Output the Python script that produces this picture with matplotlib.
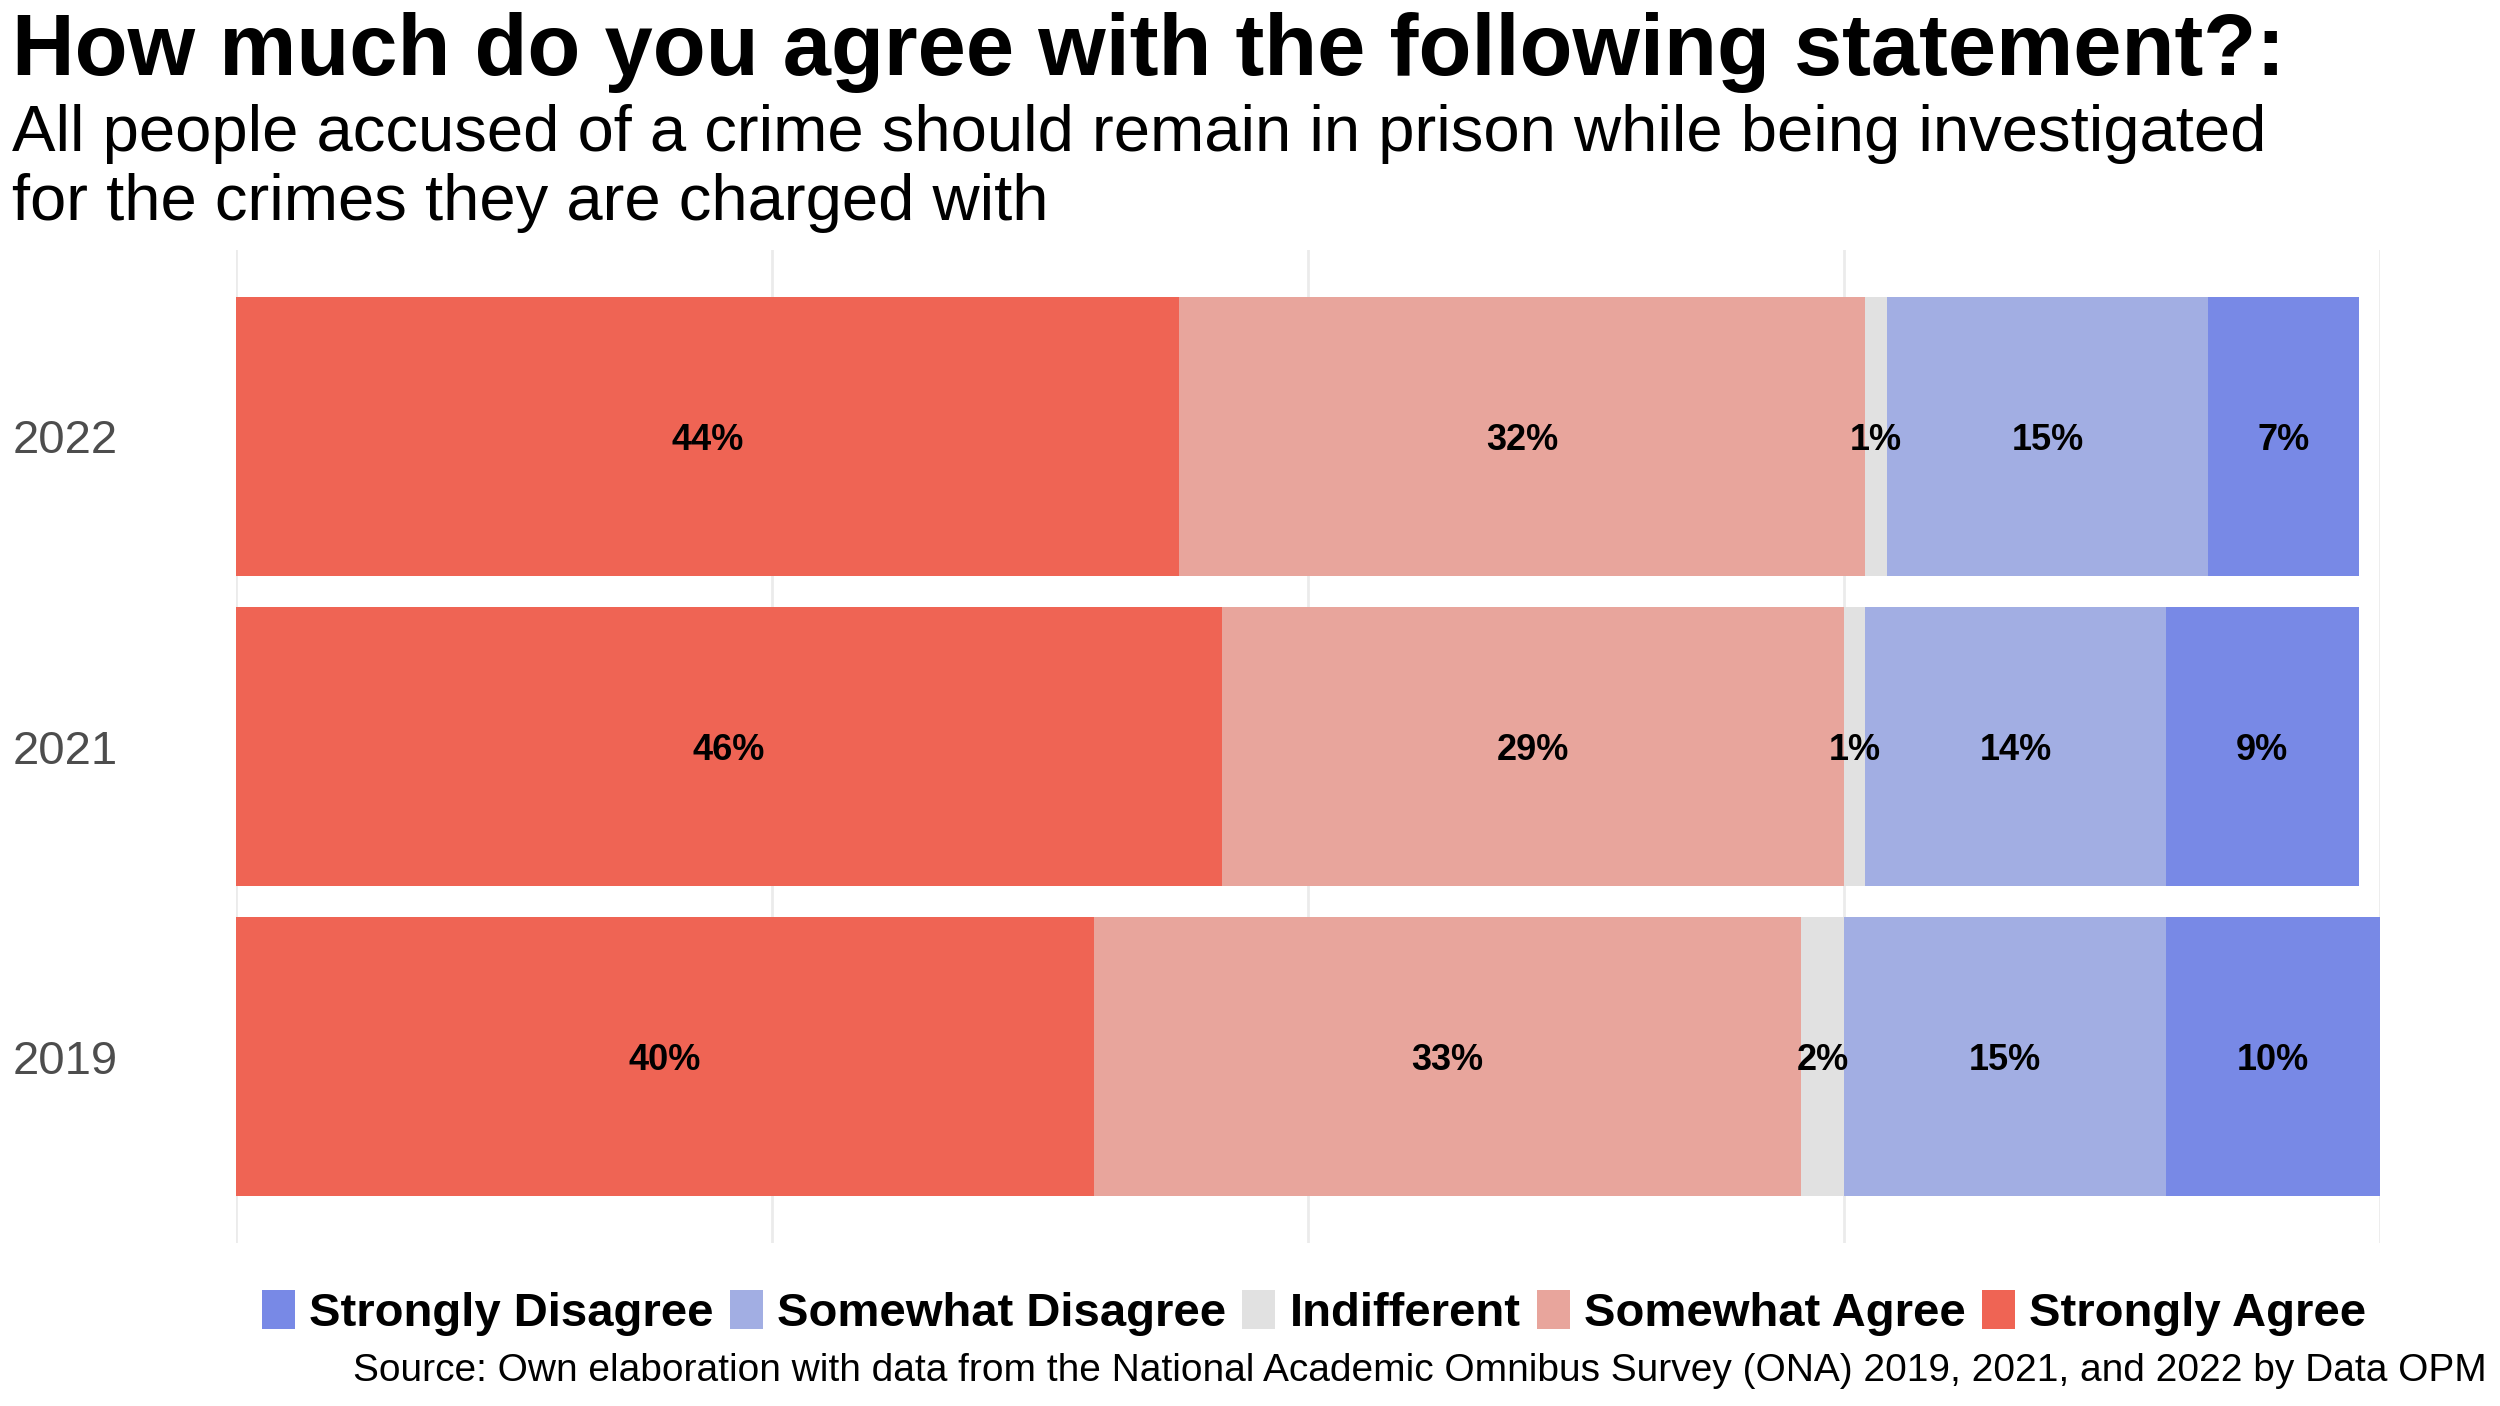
import matplotlib
matplotlib.use("Agg")
import matplotlib.pyplot as plt
from matplotlib.patches import Patch

plt.rcParams['font.family'] = ['Liberation Sans', 'DejaVu Sans']

years = ["2022", "2021", "2019"]
categories = ["Strongly Agree", "Somewhat Agree", "Indifferent",
              "Somewhat Disagree", "Strongly Disagree"]
strongly_agree = [44, 46, 40]
somewhat_agree = [32, 29, 33]
indifferent = [1, 1, 2]
somewhat_disagree = [15, 14, 15]
strongly_disagree = [7, 9, 10]
series = [strongly_agree, somewhat_agree, indifferent,
          somewhat_disagree, strongly_disagree]
colors = ["#EF6454", "#E8A59C", "#E1E1E1", "#A2AEE3", "#7889E6"]

title = "How much do you agree with the following statement?:"
subtitle_lines = ["All people accused of a crime should remain in prison while being investigated",
                  "for the crimes they are charged with"]
source = ("Source: Own elaboration with data from the National Academic Omnibus Survey "
          "(ONA) 2019, 2021, and 2022 by Data OPM")

W, H = 2500, 1406
fig = plt.figure(figsize=(W / 100, H / 100), dpi=100)
ax = fig.add_axes([236 / W, 1 - 1243 / H, (2380 - 236) / W, (1243 - 250) / H])

ypos = [2, 1, 0]
left = [0, 0, 0]
for vals, col in zip(series, colors):
    ax.barh(ypos, vals, left=left, height=0.9, color=col, linewidth=0, zorder=2)
    for y, l, v in zip(ypos, left, vals):
        ax.text(l + v / 2, y, f"{v}%", ha='center', va='center_baseline',
                fontsize=26, fontweight='bold', color='black', zorder=3)
    left = [a + b for a, b in zip(left, vals)]

ax.set_xlim(0, 100)
ax.set_ylim(-0.6, 2.6)
ax.set_xticks([0, 25, 50, 75, 100])
ax.set_xticklabels([])
ax.grid(axis='x', color='#EBEBEB', linewidth=2, zorder=0)
ax.set_yticks(ypos)
ax.set_yticklabels(years, fontsize=34, color='#4D4D4D')
ax.tick_params(axis='both', length=0)
ax.tick_params(axis='y', pad=85)
for s in ax.spines.values():
    s.set_visible(False)

fig.text(12 / W, 1 - 75 / H, title, fontsize=62.5, fontweight='bold',
         va='baseline', ha='left')
for i, line in enumerate(subtitle_lines):
    fig.text(12 / W, 1 - (151 + 69 * i) / H, line, fontsize=47,
             va='baseline', ha='left')

handles = [Patch(facecolor=c, edgecolor='none', label=l)
           for c, l in zip(colors[::-1], categories[::-1])]
leg = fig.legend(handles=handles, loc='center', bbox_to_anchor=(1314 / W, 1 - 1313 / H),
                 ncol=5, frameon=False, prop={'size': 34, 'weight': 'bold'},
                 handlelength=0.7, handleheight=0.87, handletextpad=0.3,
                 columnspacing=0.34, borderaxespad=0, borderpad=0)

fig.text(2487 / W, 1 - 1371 / H, source, fontsize=28, ha='right', va='center')

fig.savefig("out.png", dpi=100, facecolor='white')
